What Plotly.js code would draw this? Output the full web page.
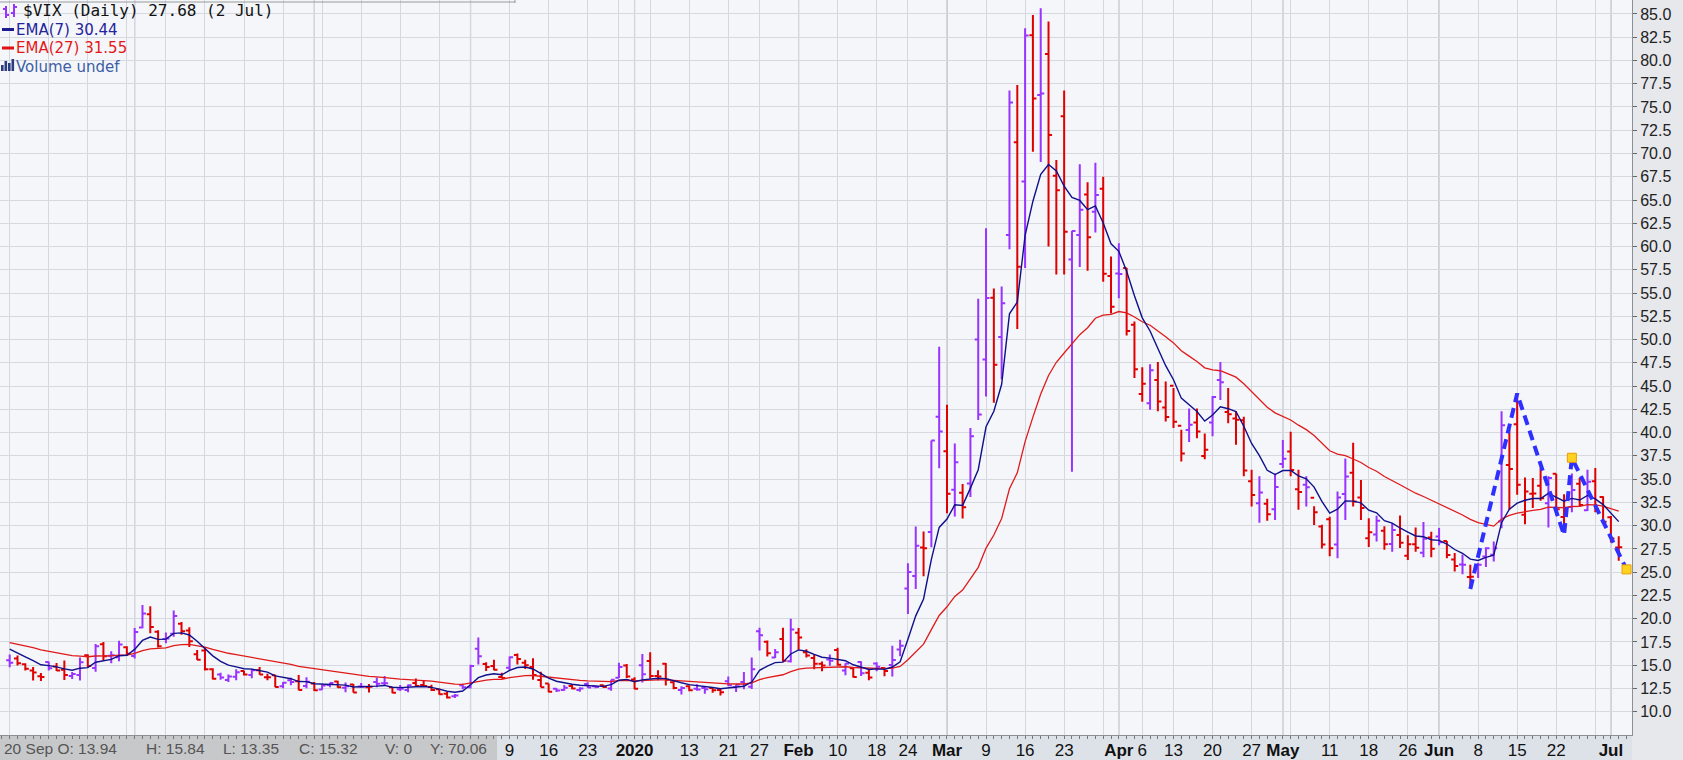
<!DOCTYPE html>
<html><head><meta charset="utf-8">
<script src="https://cdn.plot.ly/plotly-3.0.1.min.js"></script>
<style>html,body{margin:0;padding:0;background:#e6e8ec;overflow:hidden}#chart{width:1683px;height:760px}</style>
</head><body><div id="chart"></div>
<script>
// ---- data (trading days, $VIX daily) ----
const dates = [
'2019-09-09','2019-09-10','2019-09-11','2019-09-12','2019-09-13','2019-09-16','2019-09-17','2019-09-18','2019-09-19','2019-09-20','2019-09-23','2019-09-24','2019-09-25','2019-09-26','2019-09-27','2019-09-30',
'2019-10-01','2019-10-02','2019-10-03','2019-10-04','2019-10-07','2019-10-08','2019-10-09','2019-10-10','2019-10-11','2019-10-14','2019-10-15','2019-10-16','2019-10-17','2019-10-18','2019-10-21','2019-10-22','2019-10-23','2019-10-24','2019-10-25','2019-10-28','2019-10-29','2019-10-30','2019-10-31',
'2019-11-01','2019-11-04','2019-11-05','2019-11-06','2019-11-07','2019-11-08','2019-11-11','2019-11-12','2019-11-13','2019-11-14','2019-11-15','2019-11-18','2019-11-19','2019-11-20','2019-11-21','2019-11-22','2019-11-25','2019-11-26','2019-11-27','2019-11-29',
'2019-12-02','2019-12-03','2019-12-04','2019-12-05','2019-12-06','2019-12-09','2019-12-10','2019-12-11','2019-12-12','2019-12-13','2019-12-16','2019-12-17','2019-12-18','2019-12-19','2019-12-20','2019-12-23','2019-12-24','2019-12-26','2019-12-27','2019-12-30','2019-12-31',
'2020-01-02','2020-01-03','2020-01-06','2020-01-07','2020-01-08','2020-01-09','2020-01-10','2020-01-13','2020-01-14','2020-01-15','2020-01-16','2020-01-17','2020-01-21','2020-01-22','2020-01-23','2020-01-24','2020-01-27','2020-01-28','2020-01-29','2020-01-30','2020-01-31',
'2020-02-03','2020-02-04','2020-02-05','2020-02-06','2020-02-07','2020-02-10','2020-02-11','2020-02-12','2020-02-13','2020-02-14','2020-02-18','2020-02-19','2020-02-20','2020-02-21','2020-02-24','2020-02-25','2020-02-26','2020-02-27','2020-02-28',
'2020-03-02','2020-03-03','2020-03-04','2020-03-05','2020-03-06','2020-03-09','2020-03-10','2020-03-11','2020-03-12','2020-03-13','2020-03-16','2020-03-17','2020-03-18','2020-03-19','2020-03-20','2020-03-23','2020-03-24','2020-03-25','2020-03-26','2020-03-27','2020-03-30','2020-03-31',
'2020-04-01','2020-04-02','2020-04-03','2020-04-06','2020-04-07','2020-04-08','2020-04-09','2020-04-13','2020-04-14','2020-04-15','2020-04-16','2020-04-17','2020-04-20','2020-04-21','2020-04-22','2020-04-23','2020-04-24','2020-04-27','2020-04-28','2020-04-29','2020-04-30',
'2020-05-01','2020-05-04','2020-05-05','2020-05-06','2020-05-07','2020-05-08','2020-05-11','2020-05-12','2020-05-13','2020-05-14','2020-05-15','2020-05-18','2020-05-19','2020-05-20','2020-05-21','2020-05-22','2020-05-26','2020-05-27','2020-05-28','2020-05-29',
'2020-06-01','2020-06-02','2020-06-03','2020-06-04','2020-06-05','2020-06-08','2020-06-09','2020-06-10','2020-06-11','2020-06-12','2020-06-15','2020-06-16','2020-06-17','2020-06-18','2020-06-19','2020-06-22','2020-06-23','2020-06-24','2020-06-25','2020-06-26','2020-06-29','2020-06-30',
'2020-07-01','2020-07-02'];
const futureDates = ['2020-07-06'];

const openV = [
15.53,15.72,15.10,14.42,13.82,15.35,14.85,14.50,13.85,13.94,16.07,14.71,17.26,16.03,15.86,16.94,
15.98,19.06,20.47,18.61,17.83,18.38,19.46,18.74,16.18,16.58,14.57,13.99,13.42,13.77,14.39,13.94,14.45,13.72,13.92,12.75,13.39,13.27,12.78,
13.03,12.39,12.88,13.24,12.58,12.92,12.72,12.63,13.19,13.07,12.64,12.43,12.35,13.10,12.88,12.66,12.42,11.94,11.67,12.86,
12.63,16.76,15.14,14.91,13.74,14.72,16.09,15.26,14.80,13.42,13.04,12.46,12.35,12.76,12.35,12.97,12.74,12.84,12.51,13.65,14.96,
13.46,15.01,15.45,13.84,15.16,13.17,12.34,12.74,12.48,12.55,12.54,12.34,13.28,12.63,13.19,12.69,18.66,17.52,15.84,17.81,15.44,
18.49,16.40,15.77,15.15,15.62,16.64,14.42,14.67,15.34,14.19,15.19,14.70,15.03,16.68,23.24,24.60,27.66,29.33,41.70,
38.00,33.86,33.53,34.52,50.00,47.87,54.49,50.28,61.25,71.20,67.00,82.70,76.30,80.70,67.60,74.00,58.60,61.25,65.60,63.75,66.20,56.84,
57.10,57.70,51.59,44.14,43.16,45.66,42.70,45.03,40.75,40.29,41.10,37.50,41.08,45.66,42.22,41.51,41.32,34.77,32.40,32.36,31.77,
36.63,37.97,33.91,34.41,33.00,29.91,30.68,27.97,33.40,35.69,33.04,28.64,29.06,29.46,28.02,29.00,26.76,28.01,27.10,28.73,
28.84,28.35,26.37,25.83,24.49,25.40,26.68,26.87,30.46,36.52,40.90,31.17,33.43,34.28,32.42,35.59,30.92,32.00,34.51,31.66,34.78,33.07,
30.91,27.64];
const highV = [
16.16,16.04,15.22,14.82,14.17,15.39,15.25,15.50,14.27,15.84,16.17,17.27,17.50,16.49,17.62,17.04,
18.99,21.46,21.33,18.75,18.51,20.87,19.64,19.08,16.63,16.94,14.67,14.19,14.01,14.56,14.40,14.62,14.80,14.08,13.97,13.20,13.64,13.95,13.72,
13.19,12.96,13.11,13.33,13.14,12.97,13.08,12.97,13.68,13.85,12.65,12.87,12.92,13.58,13.37,12.89,12.48,12.13,11.90,13.02,
15.04,17.99,15.33,15.59,14.18,15.95,16.26,15.58,15.74,14.30,13.04,12.55,12.88,12.97,12.63,13.16,12.81,12.90,13.43,15.27,15.13,
13.72,16.20,16.39,14.46,15.24,13.37,12.73,12.84,12.95,12.77,12.56,12.47,13.80,12.91,14.28,15.82,19.02,17.67,16.74,19.02,19.99,
19.00,16.73,16.15,15.39,16.14,16.89,15.20,14.81,15.42,14.62,15.32,14.78,17.08,17.75,25.96,29.90,29.36,39.16,49.24,
43.00,38.82,34.47,40.50,54.39,61.96,55.50,55.70,76.76,77.37,83.46,84.89,85.61,84.20,69.30,76.76,61.70,68.84,66.90,69.00,67.50,58.93,
60.35,57.70,51.94,47.04,47.34,47.60,45.50,44.80,40.30,42.60,42.60,39.90,43.93,47.60,44.80,42.30,41.70,36.00,35.30,32.90,35.60,
39.20,40.10,36.00,35.30,32.10,30.10,30.97,33.67,37.22,38.90,34.90,30.80,31.06,29.95,30.25,31.10,28.96,29.81,30.39,29.34,
29.74,28.35,27.06,26.89,25.81,26.01,27.69,28.30,42.30,40.30,44.23,35.17,35.11,36.19,35.31,35.59,33.38,35.61,35.15,36.01,36.19,33.15,
31.03,28.86];
const lowV = [
14.78,14.96,14.42,13.35,13.31,14.42,14.38,13.40,13.52,13.35,14.79,14.31,15.49,15.21,15.43,16.02,
15.72,18.98,18.43,16.91,17.36,18.06,18.27,16.96,15.57,14.44,13.46,13.45,13.19,13.38,13.89,13.59,13.98,13.39,12.63,12.52,12.84,12.31,12.52,
12.24,12.36,12.63,12.58,12.09,12.07,12.55,12.07,12.63,12.88,11.98,12.22,12.10,12.67,12.66,12.23,11.83,11.43,11.47,12.41,
12.50,15.09,14.39,14.47,13.61,14.43,15.08,14.60,13.43,12.63,12.10,12.13,12.25,12.42,12.16,12.59,12.52,12.58,12.26,13.63,13.62,
12.42,13.13,13.54,13.39,12.83,12.42,11.85,12.21,12.25,11.93,12.05,11.75,12.75,12.13,12.41,12.45,16.58,15.93,15.78,15.36,15.28,
16.67,15.82,14.58,14.36,14.93,14.95,13.91,13.67,13.85,13.38,14.35,13.81,13.78,15.97,20.50,23.18,24.55,27.69,36.16,
31.33,30.98,30.76,33.08,41.36,43.87,43.21,45.75,59.70,51.15,57.70,70.20,69.10,60.00,57.00,57.00,35.80,57.80,57.40,61.50,56.23,52.81,
54.43,50.45,45.86,43.33,42.46,42.30,41.20,40.50,36.90,39.00,39.40,37.14,39.60,43.50,41.00,38.70,35.30,32.05,30.30,30.54,30.60,
36.20,35.30,31.70,32.05,30.08,27.54,26.70,26.50,30.60,32.05,30.60,27.70,28.30,27.40,27.20,27.60,26.30,27.20,26.60,26.61,
27.89,26.51,25.08,24.79,23.59,24.38,25.56,26.15,29.73,31.70,33.31,30.15,31.91,32.68,29.79,31.13,29.64,31.44,32.01,31.57,31.45,30.30,
28.20,26.23];
const closeV = [
15.27,15.20,14.61,14.22,13.74,14.67,14.44,13.95,14.05,15.32,14.91,17.05,15.96,16.07,17.22,16.24,
18.56,20.56,19.12,17.04,17.86,20.28,18.64,17.57,15.58,14.57,13.54,13.68,13.79,14.25,14.00,14.46,14.01,13.71,12.65,13.11,13.20,12.33,13.22,
12.30,12.83,13.10,12.62,12.73,12.07,12.69,12.68,13.00,13.05,12.05,12.46,12.86,12.78,12.76,12.34,11.87,11.54,11.75,12.62,
14.91,15.96,14.80,14.52,13.62,15.86,15.68,14.99,13.94,12.63,12.14,12.29,12.58,12.50,12.51,12.61,12.67,12.65,13.43,14.82,13.78,
12.47,14.02,13.85,13.79,13.45,12.54,12.56,12.32,12.39,12.42,12.32,12.10,12.85,12.91,12.98,14.56,18.23,16.28,16.39,15.49,18.84,
17.97,16.05,15.15,14.96,15.47,15.04,15.18,13.74,14.15,13.68,14.83,14.38,15.56,17.08,25.03,27.85,27.56,39.16,40.11,
33.42,36.82,31.99,39.62,41.94,54.46,47.30,53.90,75.47,57.83,82.69,75.91,76.45,72.00,66.04,61.59,61.67,63.95,61.00,65.54,57.08,53.54,
57.06,50.91,46.80,45.24,46.70,43.35,41.67,41.17,37.76,40.84,40.11,38.15,43.83,45.41,41.98,41.38,35.93,33.29,33.57,31.23,34.15,
37.19,35.97,33.61,34.12,31.44,27.98,27.57,33.04,35.28,32.61,31.89,29.30,30.53,27.99,29.53,28.16,28.01,27.62,28.59,27.51,
28.23,26.84,25.66,25.81,24.52,25.81,27.57,27.57,40.79,36.09,34.40,33.67,33.47,32.94,35.12,31.77,31.37,33.84,32.22,34.73,31.78,30.43,
28.62,27.68];
const prevClose = 15.00;            // close of the session before the first bar
const ema7Start = 17.2, ema27Start = 17.6;

// hand-drawn dashed pattern (StockCharts annotation)
const patternDates  = ['2020-06-05','2020-06-15','2020-06-23','2020-06-24','2020-07-06'];
const patternValues = [23.2, 44.2, 29.0, 37.3, 25.3];
const markerDates   = ['2020-06-24','2020-07-06'];
const markerValues  = [37.3, 25.3];

// axis labels
const tickDates  = ['2019-12-09','2019-12-16','2019-12-23','2020-01-02','2020-01-13','2020-01-21','2020-01-27','2020-02-03','2020-02-10','2020-02-18','2020-02-24','2020-03-02','2020-03-09','2020-03-16','2020-03-23','2020-04-01','2020-04-06','2020-04-13','2020-04-20','2020-04-27','2020-05-01','2020-05-11','2020-05-18','2020-05-26','2020-06-01','2020-06-08','2020-06-15','2020-06-22','2020-07-01'];
const tickLabels = ['9','16','23','<b>2020</b>','13','21','27','<b>Feb</b>','10','18','24','<b>Mar</b>','9','16','23','<b>Apr</b>','6','13','20','27','<b>May</b>','11','18','26','<b>Jun</b>','8','15','22','<b>Jul</b>'];
const yTicks = [10,12.5,15,17.5,20,22.5,25,27.5,30,32.5,35,37.5,40,42.5,45,47.5,50,52.5,55,57.5,60,62.5,65,67.5,70,72.5,75,77.5,80,82.5,85];

// ---- derived ----
const allDates = dates.concat(futureDates);
const pos = d => allDates.indexOf(d);
const idx = dates.map((d,i)=>i);
function ema(vals,n,start){const k=2/(n+1);let e=start;return vals.map(v=>(e=v*k+e*(1-k)));}
const ema7 = ema(closeV,7,ema7Start), ema27 = ema(closeV,27,ema27Start);
const upI=[], dnI=[];
closeV.forEach((c,i)=>{const p=i?closeV[i-1]:prevClose;(c>=p?upI:dnI).push(i);});
function ohlc(ix,color){return {type:'ohlc',x:ix,open:ix.map(i=>openV[i]),high:ix.map(i=>highV[i]),low:ix.map(i=>lowV[i]),close:ix.map(i=>closeV[i]),
  increasing:{line:{color:color,width:2}},decreasing:{line:{color:color,width:2}},tickwidth:0.45,hoverinfo:'skip',showlegend:false};}

const PW=1632, PH=735;
const px = x=>x/PW, py = y=>1-y/PH;

// grid positions: week starts (light, axis grid) and month starts (darker)
const gridPos=[], monthPos=[];
for(let i=0;i<dates.length;i++){
  const d=new Date(dates[i]+'T00:00:00Z'), p=i?new Date(dates[i-1]+'T00:00:00Z'):null;
  const newMonth = p && d.getUTCMonth()!==p.getUTCMonth();
  const newWeek = p && (d.getUTCDay()<=p.getUTCDay() || (d-p)>4*864e5);
  if(i===0||newMonth||newWeek) gridPos.push(i);
  if(newMonth) monthPos.push(i);
}
const labelAt={}; tickDates.forEach((d,k)=>labelAt[pos(d)]=tickLabels[k]);

const shapes=[];
monthPos.forEach(i=>shapes.push({type:'line',xref:'x',yref:'paper',x0:i,x1:i,y0:0,y1:1,layer:'between',line:{color:'#adb1b8',width:1.2}}));
// bottom axis band & status box
shapes.push({type:'rect',xref:'paper',yref:'paper',x0:0,x1:1,y0:py(760),y1:0,layer:'below',fillcolor:'#dde1e8',line:{width:0}});
shapes.push({type:'rect',xref:'paper',yref:'paper',x0:0,x1:px(497),y0:py(760),y1:0,layer:'below',fillcolor:'#c7c8ca',line:{width:0}});
// top header strip line
shapes.push({type:'line',xref:'paper',yref:'paper',x0:0,x1:px(515),y0:py(2),y1:py(2),line:{color:'#9a9a9a',width:1}});
shapes.push({type:'line',xref:'paper',yref:'paper',x0:px(515),x1:px(515),y0:py(0),y1:py(3),line:{color:'#9a9a9a',width:1}});
// legend icons
[[6,6,6,18],[3,6,9,9],[6,9,15,15],[14,14,4,17],[11,14,13,13],[14,17,7,7]].forEach(l=>shapes.push({type:'line',xref:'paper',yref:'paper',x0:px(l[0]),x1:px(l[1]),y0:py(l[2]),y1:py(l[3]),line:{color:'#9933ff',width:2}}));
shapes.push({type:'line',xref:'paper',yref:'paper',x0:px(2),x1:px(14),y0:py(29.5),y1:py(29.5),line:{color:'#1c1c90',width:3}});
shapes.push({type:'line',xref:'paper',yref:'paper',x0:px(2),x1:px(14),y0:py(48),y1:py(48),line:{color:'#e01010',width:3}});
[[1,65,71],[4.5,61,71],[8,63,71],[11.5,59,71]].forEach(b=>shapes.push({type:'rect',xref:'paper',yref:'paper',x0:px(b[0]),x1:px(b[0]+2.6),y0:py(b[2]),y1:py(b[1]),fillcolor:'#2a3c80',line:{width:0}}));

const legFont={family:'DejaVu Sans, Verdana, sans-serif',size:15};
const annotations=[
 {xref:'paper',yref:'paper',x:px(21),y:py(11),xanchor:'left',yanchor:'middle',showarrow:false,text:'$VIX (Daily) 27.68 (2 Jul)',font:{family:'DejaVu Sans Mono, monospace',size:16,color:'#111'}},
 {xref:'paper',yref:'paper',x:px(14),y:py(29.5),xanchor:'left',yanchor:'middle',showarrow:false,text:'EMA(7) 30.44',font:Object.assign({color:'#24249c'},legFont)},
 {xref:'paper',yref:'paper',x:px(14),y:py(48),xanchor:'left',yanchor:'middle',showarrow:false,text:'EMA(27) 31.55',font:Object.assign({color:'#e41818'},legFont)},
 {xref:'paper',yref:'paper',x:px(14),y:py(66.5),xanchor:'left',yanchor:'middle',showarrow:false,text:'Volume undef',font:Object.assign({color:'#3d5ea6'},legFont)}
];
const statusItems=[['20 Sep O: 13.94',2],['H: 15.84',144],['L: 13.35',221],['C: 15.32',297],['V: 0',383],['Y: 70.06',428]];
statusItems.forEach(s=>annotations.push({xref:'paper',yref:'paper',x:px(s[1]),y:py(748),xanchor:'left',yanchor:'middle',showarrow:false,text:s[0],
  font:{family:'Liberation Sans, Arial, sans-serif',size:15.5,color:'#555'}}));

const traces=[
 ohlc(upI,'#9933ff'), ohlc(dnI,'#e00000'),
 {type:'scatter',mode:'lines',x:idx,y:ema27,line:{color:'#e01a1a',width:1.3},hoverinfo:'skip',showlegend:false},
 {type:'scatter',mode:'lines',x:idx,y:ema7,line:{color:'#10108a',width:1.4},hoverinfo:'skip',showlegend:false},
 {type:'scatter',mode:'lines',x:patternDates.map(pos),y:patternValues,line:{color:'#2f2fff',width:4,dash:'10px,6px'},hoverinfo:'skip',showlegend:false},
 {type:'scatter',mode:'markers',x:markerDates.map(pos),y:markerValues,marker:{symbol:'square',size:9,color:'#ffd21f',line:{color:'#e8a000',width:1}},hoverinfo:'skip',showlegend:false}
];

const layout={
 width:1683,height:760,margin:{l:0,r:51,t:0,b:25},
 paper_bgcolor:'#e6e8ec',plot_bgcolor:'#f4f6fa',
 xaxis:{range:[-1.24,207.7],showgrid:true,gridcolor:'#d4d7dd',gridwidth:1,zeroline:false,showline:true,linecolor:'#8c8f95',linewidth:1,
   tickmode:'array',tickvals:gridPos,ticktext:gridPos.map(i=>labelAt[i]||''),ticks:'',tickfont:{family:'Liberation Sans, Arial, sans-serif',size:17,color:'#111'},
   minor:{tickmode:'linear',tick0:0,dtick:1,ticks:'outside',ticklen:3,tickcolor:'#777',showgrid:false},
   rangeslider:{visible:false},fixedrange:true},
 yaxis:{side:'right',range:[7.5,86.5],tickmode:'array',tickvals:yTicks,ticktext:yTicks.map(v=>v.toFixed(1)),
   showgrid:true,gridcolor:'#d6d9df',gridwidth:1,zeroline:false,showline:true,linecolor:'#8c8f95',
   ticks:'outside',ticklen:4,tickcolor:'#666',tickfont:{family:'Liberation Sans, Arial, sans-serif',size:16,color:'#222'},fixedrange:true},
 shapes:shapes,annotations:annotations,showlegend:false,hovermode:false
};
Plotly.newPlot('chart',traces,layout,{displayModeBar:false,staticPlot:true});
</script></body></html>
